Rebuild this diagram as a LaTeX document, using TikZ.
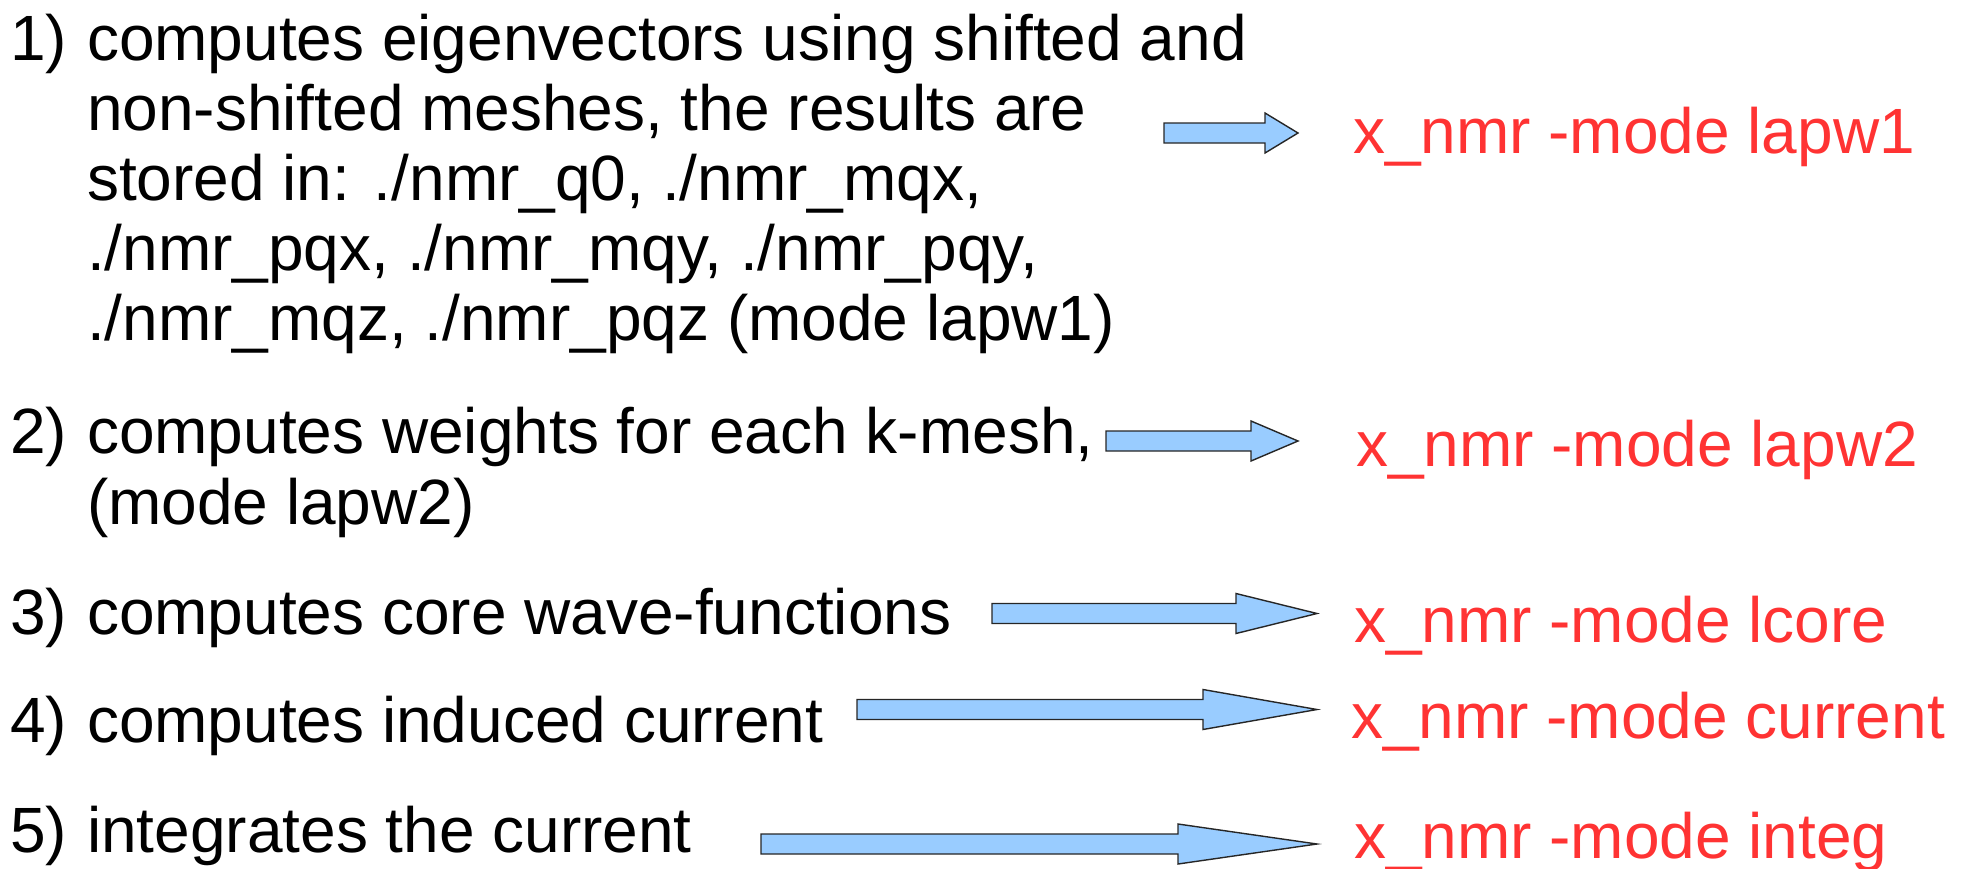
\documentclass[tikz,border=0pt]{standalone}
\usepackage{fontspec}
\setmainfont{Liberation Sans}
\usetikzlibrary{calc}
\definecolor{cmdred}{HTML}{FF3333}
\definecolor{arrowblue}{HTML}{99CCFF}
\newcommand\myblockarrow[3]{%
  \draw[barrow] ($(#1)+(0,-10)$) -- ($(#2)+(-#3,-10)$) -- ($(#2)+(-#3,-20)$) -- (#2)
    -- ($(#2)+(-#3,20)$) -- ($(#2)+(-#3,10)$) -- ($(#1)+(0,10)$) -- cycle;}
\tikzset{
  txt/.style={anchor=base west, inner sep=0pt, outer sep=0pt, font=\fontsize{64}{70}\selectfont},
  cmd/.style={txt, text=cmdred},
  barrow/.style={fill=arrowblue, draw=black!85, line width=1.4pt, line join=miter}
}
\begin{document}
\begin{tikzpicture}[x=1pt,y=-1pt]
\useasboundingbox (0,0) rectangle (1970,868);
% item 1
\node[txt] (n1) at (10,60) {1)};
\node[txt] (i1a) at (87,60) {computes eigenvectors using shifted and};
\node[txt] (i1b) at (87,130) {non-shifted meshes, the results are};
\node[txt] (i1c) at (87,200) {stored in: ./nmr\_q0, ./nmr\_mqx,};
\node[txt] (i1d) at (87,270) {./nmr\_pqx, ./nmr\_mqy, ./nmr\_pqy,};
\node[txt] (i1e) at (87,340) {./nmr\_mqz, ./nmr\_pqz (mode lapw1)};
% item 2
\node[txt] (n2) at (10,453) {2)};
\node[txt] (i2a) at (87,453) {computes weights for each k-mesh,};
\node[txt] (i2b) at (87,524) {(mode lapw2)};
% item 3
\node[txt] (n3) at (10,634) {3)};
\node[txt] (i3) at (87,634) {computes core wave-functions};
% item 4
\node[txt] (n4) at (10,742) {4)};
\node[txt] (i4) at (87,742) {computes induced current};
% item 5
\node[txt] (n5) at (10,852) {5)};
\node[txt] (i5) at (87,852) {integrates the current};
% commands
\node[cmd] (c1) at (1353,153) {x\_nmr -mode lapw1};
\node[cmd] (c2) at (1356,466) {x\_nmr -mode lapw2};
\node[cmd] (c3) at (1354,642) {x\_nmr -mode lcore};
\node[cmd] (c4) at (1351,738) {x\_nmr -mode current};
\node[cmd] (c5) at (1354,858) {x\_nmr -mode integ};
% arrows
\coordinate (t1) at (1164,133); \coordinate (h1) at (1298,133);
\coordinate (t2) at (1106,441); \coordinate (h2) at (1298,441);
\coordinate (t3) at (992,613.5); \coordinate (h3) at (1317,613.5);
\coordinate (t4) at (857,709.5); \coordinate (h4) at (1317,709.5);
\coordinate (t5) at (761,844); \coordinate (h5) at (1317,844);
\myblockarrow{t1}{h1}{33}
\myblockarrow{t2}{h2}{47}
\myblockarrow{t3}{h3}{81}
\myblockarrow{t4}{h4}{114}
\myblockarrow{t5}{h5}{139}
\end{tikzpicture}
\end{document}
